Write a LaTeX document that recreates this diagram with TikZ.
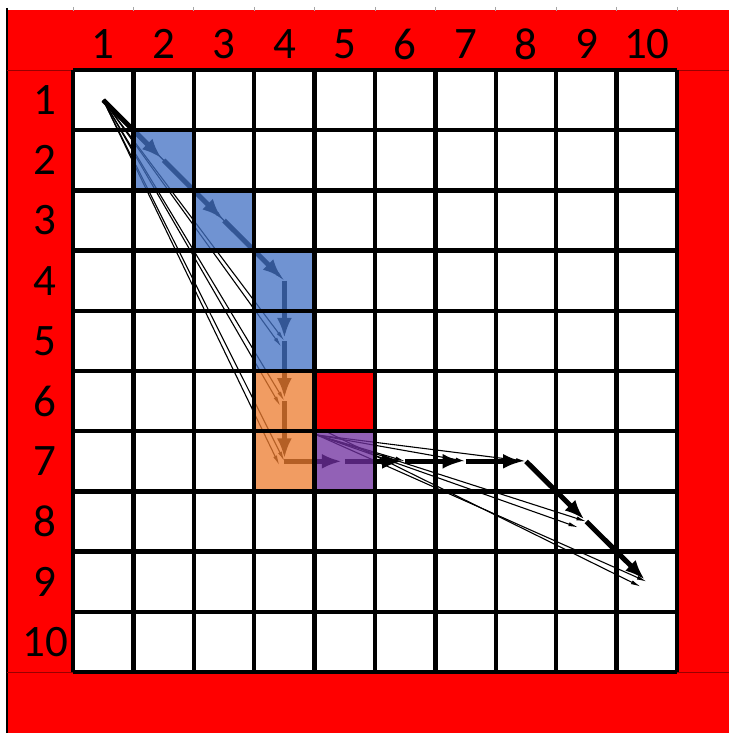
\documentclass[tikz,border=0pt]{standalone}
\usepackage{fontspec}
\setmainfont{Carlito}
\usetikzlibrary{arrows.meta}
\definecolor{cblue}{RGB}{68,114,196}
\definecolor{corange}{RGB}{237,125,49}
\definecolor{cpurple}{RGB}{112,48,160}
\tikzset{
  gridline/.style={black, line width=4.3pt},
  thickarrow/.style={black, line width=5pt, -{Latex[length=20pt,width=15pt]}, shorten >=3pt},
  thinarrow/.style={black, line width=1.1pt, -{Latex[length=10pt,width=4pt]}},
  lbl/.style={font=\fontsize{45}{45}\selectfont, inner sep=0pt, anchor=center},
  tint/.style={fill opacity=0.76},
}
\begin{document}
\begin{tikzpicture}[x=1pt,y=-1pt]
\useasboundingbox (0,0) rectangle (729,733);
% background
\fill[white] (0,0) rectangle (729,733);
\fill[red] (7,10) rectangle (729,733);
\draw[black, line width=2pt] (7,8) -- (7,733);
\foreach \i in {0,...,10} {
  \draw[gray!70, line width=0.8pt] ({73+60.4*\i},7) -- ({73+60.4*\i},11);
}
\draw[red!60!black, line width=0.8pt] (7,70) -- (729,70);
\draw[red!60!black, line width=0.8pt] (7,672) -- (729,672);
% white grid area
\fill[white] (73,70) rectangle (677,672);
% cell centre coordinates
\foreach \r in {1,...,10} {
  \foreach \c in {1,...,10} {
    \coordinate (c-\r-\c) at ({73+60.4*(\c-0.5)},{70+60.2*(\r-0.5)});
  }
}
% labels
\foreach \c in {1,...,10} {
  \node[lbl] (col\c) at ({73+60.4*(\c-0.5)},44) {\c};
}
\foreach \r in {1,...,10} {
  \node[lbl] (row\r) at (45,{70+60.2*(\r-0.5)}) {\r};
}
% thin line-of-sight arrows from the start
\foreach \t in {c-3-3,c-4-4,c-5-4,c-6-4,c-7-4} {
  \draw[thinarrow] (c-1-1) -- (\t);
}
\draw[thinarrow] (c-1-1) -- ([xshift=-3pt,yshift=-6pt]c-5-4);
\draw[thinarrow] (c-1-1) -- ([xshift=-4pt,yshift=-5pt]c-6-4);
\draw[thinarrow] (c-1-1) -- ([xshift=-5pt,yshift=-4pt]c-7-4);
% second fan
\coordinate (f2) at (317,435);
\foreach \t in {c-7-6,c-7-7,c-7-8,c-8-9,c-9-10} {
  \draw[thinarrow] (f2) -- (\t);
}
\draw[thinarrow] (f2) -- ([xshift=-8pt,yshift=-6pt]c-8-9);
\draw[thinarrow] ([yshift=8pt]f2) -- ([xshift=-6pt,yshift=-5pt]c-9-10);
% thick path
\draw[thickarrow] (c-1-1) -- (c-2-2);
\draw[thickarrow] (c-2-2) -- (c-3-3);
\draw[thickarrow] (c-3-3) -- (c-4-4);
\draw[thickarrow] (c-4-4) -- (c-5-4);
\draw[thickarrow] (c-5-4) -- (c-6-4);
\draw[thickarrow] (c-6-4) -- (c-7-4);
\draw[thickarrow] (c-7-4) -- (c-7-5);
\draw[thickarrow] (c-7-5) -- (c-7-6);
\draw[thickarrow] (c-7-6) -- (c-7-7);
\draw[thickarrow] (c-7-7) -- (c-7-8);
\draw[thickarrow] (c-7-8) -- (c-8-9);
\draw[thickarrow] (c-8-9) -- (c-9-10);
% coloured cells
\fill[cblue, tint] (133.4,130.2) rectangle (193.8,190.4);
\fill[cblue, tint] (193.8,190.4) rectangle (254.2,250.6);
\fill[cblue, tint] (254.2,250.6) rectangle (314.6,371);
\fill[corange, tint] (254.2,371) rectangle (314.6,491.4);
\fill[cpurple, tint] (314.6,431.2) rectangle (375,491.4);
\fill[red] (314.6,371) rectangle (375,431.2);
% grid lines
\foreach \i in {0,...,10} {
  \draw[gridline] ({73+60.4*\i},70) -- ({73+60.4*\i},672);
  \draw[gridline] (73,{70+60.2*\i}) -- (677,{70+60.2*\i});
}
\end{tikzpicture}
\end{document}
